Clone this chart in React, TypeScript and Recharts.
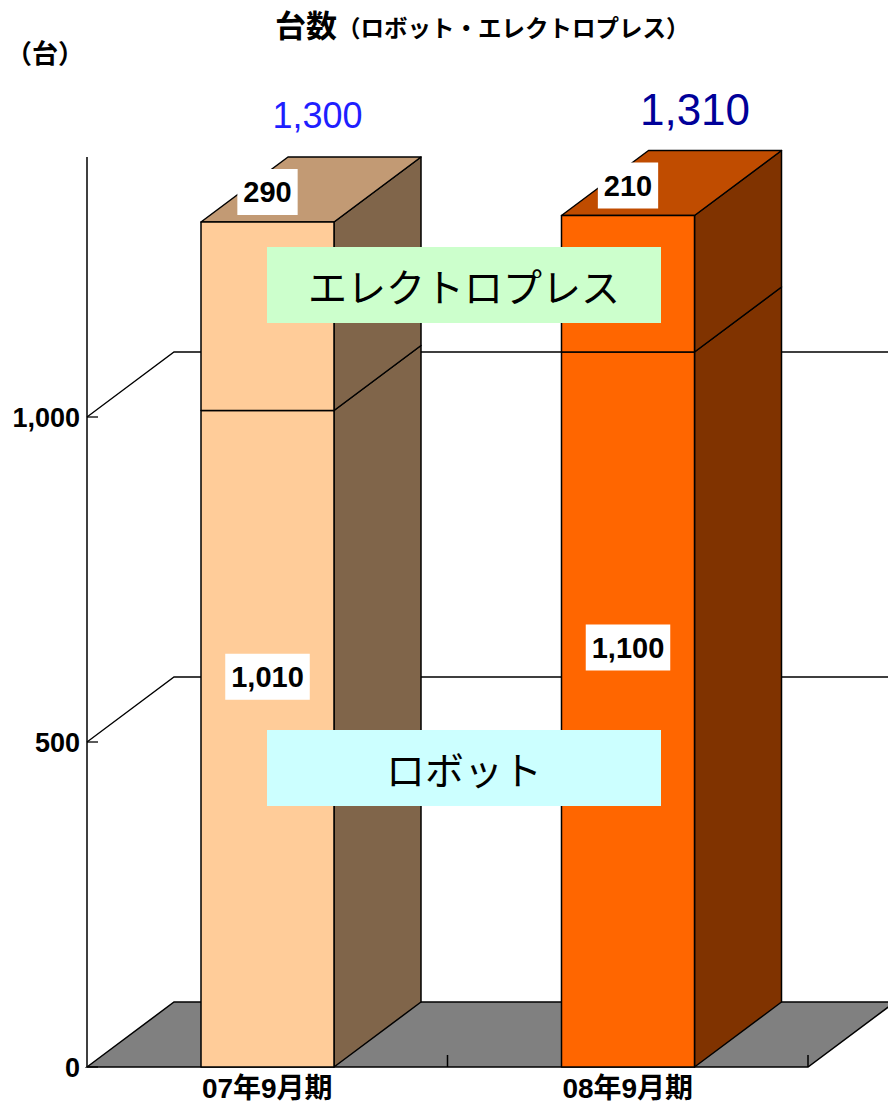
import { Bar, BarChart, CartesianGrid, LabelList, XAxis, YAxis } from "recharts";

// values (units: 台)
const periods = ["07年9月期", "08年9月期"];
const robot = [1010, 1100];
const electro = [290, 210];
const totals = [1300, 1310];
const yTicks = [0, 500, 1000];

const data = periods.map((period, i) => ({
  period,
  robot: robot[i],
  electro: electro[i],
  total: totals[i],
}));

// depth of the fake 3D
const DX = 87;
const DY = -65;

const FRONT = ["#FFCC99", "#FF6600"];
const SIDE = ["#80654A", "#803300"];
const TOP = ["#C29A74", "#C04C00"];
const TOTAL_STYLE = [
  { dx: 50, dy: -107, size: 36, color: "#1F1FFF" },
  { dx: 67, dy: -106, size: 44, color: "#000099" },
];

const LATIN = '"Liberation Sans", Arial, "Noto Sans CJK JP", sans-serif';
const CJK = '"Noto Sans CJK JP", sans-serif';
const fmt = (v: number) => v.toLocaleString("en-US");

function Box3D(props: any) {
  const { x, y, width: w, height: h, payload, withTop } = props;
  const i = Math.max(0, periods.indexOf(payload?.period));
  const side = `${x + w},${y} ${x + w + DX},${y + DY} ${x + w + DX},${y + h + DY} ${x + w},${y + h}`;
  const top = `${x},${y} ${x + DX},${y + DY} ${x + w + DX},${y + DY} ${x + w},${y}`;
  return (
    <g stroke="#000" strokeWidth={1.5} strokeLinejoin="round">
      <polygon points={side} fill={SIDE[i]} />
      {withTop && <polygon points={top} fill={TOP[i]} />}
      <rect x={x} y={y} width={w} height={h} fill={FRONT[i]} />
    </g>
  );
}

function ValueBox({ cx, cy, value }: { cx: number; cy: number; value: number }) {
  const text = fmt(value);
  const commas = (text.match(/,/g) || []).length;
  const digits = text.length - commas;
  const w = digits * 16.1 + commas * 8.1 + 12;
  return (
    <g>
      <rect x={cx - w / 2} y={cy - 23} width={w} height={46} fill="#fff" />
      <text x={cx} y={cy} dy="0.36em" textAnchor="middle" fontFamily={LATIN} fontWeight="bold" fontSize={29} fill="#000">
        {text}
      </text>
    </g>
  );
}

function vb(p: any) {
  const v = p.viewBox ?? p;
  return { x: Number(v.x), y: Number(v.y), w: Number(v.width), h: Number(v.height) };
}

function RobotLabel(p: any) {
  const { x, y, w, h } = vb(p);
  return <ValueBox cx={x + w / 2} cy={y + h / 2 - 62} value={p.value} />;
}

function ElectroLabel(p: any) {
  const { x, y, w } = vb(p);
  return <ValueBox cx={x + w / 2} cy={y - 30} value={p.value} />;
}

function TotalLabel(p: any) {
  const { x, y, w } = vb(p);
  const s = TOTAL_STYLE[p.index] ?? TOTAL_STYLE[0];
  return (
    <text x={x + w / 2 + s.dx} y={y + s.dy} dy="0.36em" textAnchor="middle" fontFamily={LATIN} fontSize={s.size} fill={s.color}>
      {fmt(p.value)}
    </text>
  );
}

// back-wall grid lines, and the floor for the zero line
function GridLine(p: any) {
  const { x1, x2, y1 } = p;
  const gTop = Number(p.y);
  const gBottom = Number(p.y) + Number(p.height);
  if (Number.isFinite(gTop) && Math.abs(y1 - gTop) < 1) return <g />;
  const bottom = Number.isFinite(gBottom) ? Math.abs(y1 - gBottom) < 1 : p.index === 0;
  if (bottom) {
    const mid = (x1 + x2) / 2;
    return (
      <g>
        <polygon
          points={`${x1},${y1} ${x1 + DX},${y1 + DY} ${x2 + DX},${y1 + DY} ${x2},${y1}`}
          fill="#808080"
          stroke="#000"
          strokeWidth={1.5}
        />
        <line x1={mid} x2={mid} y1={y1} y2={y1 - 12} stroke="#000" strokeWidth={1.5} />
        <line x1={x2} x2={x2} y1={y1} y2={y1 - 12} stroke="#000" strokeWidth={1.5} />
      </g>
    );
  }
  return (
    <path
      d={`M${x1},${y1} L${x1 + DX},${y1 + DY} L${x2 + DX},${y1 + DY}`}
      fill="none"
      stroke="#000"
      strokeWidth={1.3}
    />
  );
}

function YTick(p: any) {
  const { x, y, payload } = p;
  return (
    <g>
      <line x1={x + 7} x2={x + 18} y1={y} y2={y} stroke="#000" strokeWidth={1.3} />
      <text x={x} y={y} dy="0.36em" textAnchor="end" fontFamily={LATIN} fontWeight="bold" fontSize={27} fill="#000">
        {fmt(payload.value)}
      </text>
    </g>
  );
}

function XTick(p: any) {
  const { x, y, payload } = p;
  return (
    <text x={x} y={y} dy="0.36em" textAnchor="middle" fontFamily={LATIN} fontWeight="bold" fontSize={28} fill="#000">
      {payload.value}
    </text>
  );
}

const note: React.CSSProperties = {
  position: "absolute",
  left: 267,
  width: 394,
  height: 76,
  display: "flex",
  alignItems: "center",
  justifyContent: "center",
  fontFamily: CJK,
  fontSize: 39,
  color: "#000",
};

export default function App() {
  return (
    <div style={{ position: "absolute", left: 0, top: 0, width: 888, height: 1107, background: "#fff", overflow: "hidden" }}>
      <BarChart
        width={888}
        height={1107}
        data={data}
        margin={{ top: 157, right: 80, bottom: 0, left: 0 }}
        barSize={133}
      >
        <CartesianGrid vertical={false} horizontal={(p: any) => <GridLine {...p} />} />
        <XAxis
          dataKey="period"
          height={40}
          axisLine={false}
          tickLine={false}
          tickSize={0}
          tickMargin={21}
          tick={<XTick />}
        />
        <YAxis
          width={87}
          domain={[0, 1400]}
          ticks={yTicks}
          axisLine={{ stroke: "#000", strokeWidth: 1.5 }}
          tickLine={false}
          tickSize={0}
          tickMargin={7}
          tick={<YTick />}
        />
        <Bar dataKey="robot" stackId="a" isAnimationActive={false} shape={(p: any) => <Box3D {...p} withTop={false} />}>
          <LabelList dataKey="robot" content={(p: any) => <RobotLabel {...p} />} />
        </Bar>
        <Bar dataKey="electro" stackId="a" isAnimationActive={false} shape={(p: any) => <Box3D {...p} withTop />}>
          <LabelList dataKey="electro" content={(p: any) => <ElectroLabel {...p} />} />
          <LabelList dataKey="total" content={(p: any) => <TotalLabel {...p} />} />
        </Bar>
      </BarChart>

      <div style={{ position: "absolute", left: 275, top: 4, whiteSpace: "nowrap", fontFamily: CJK, fontWeight: "bold", color: "#000", lineHeight: "40px" }}>
        <span style={{ fontSize: 31 }}>台数</span>
        <span style={{ fontSize: 23.5 }}>（ロボット・エレクトロプレス）</span>
      </div>
      <div style={{ position: "absolute", left: 6, top: 34, fontFamily: CJK, fontWeight: "bold", fontSize: 26, lineHeight: "36px", color: "#000" }}>
        （台）
      </div>

      <div style={{ ...note, top: 247, background: "#CCFFCC" }}>エレクトロプレス</div>
      <div style={{ ...note, top: 730, background: "#CCFFFF" }}>ロボット</div>
    </div>
  );
}
